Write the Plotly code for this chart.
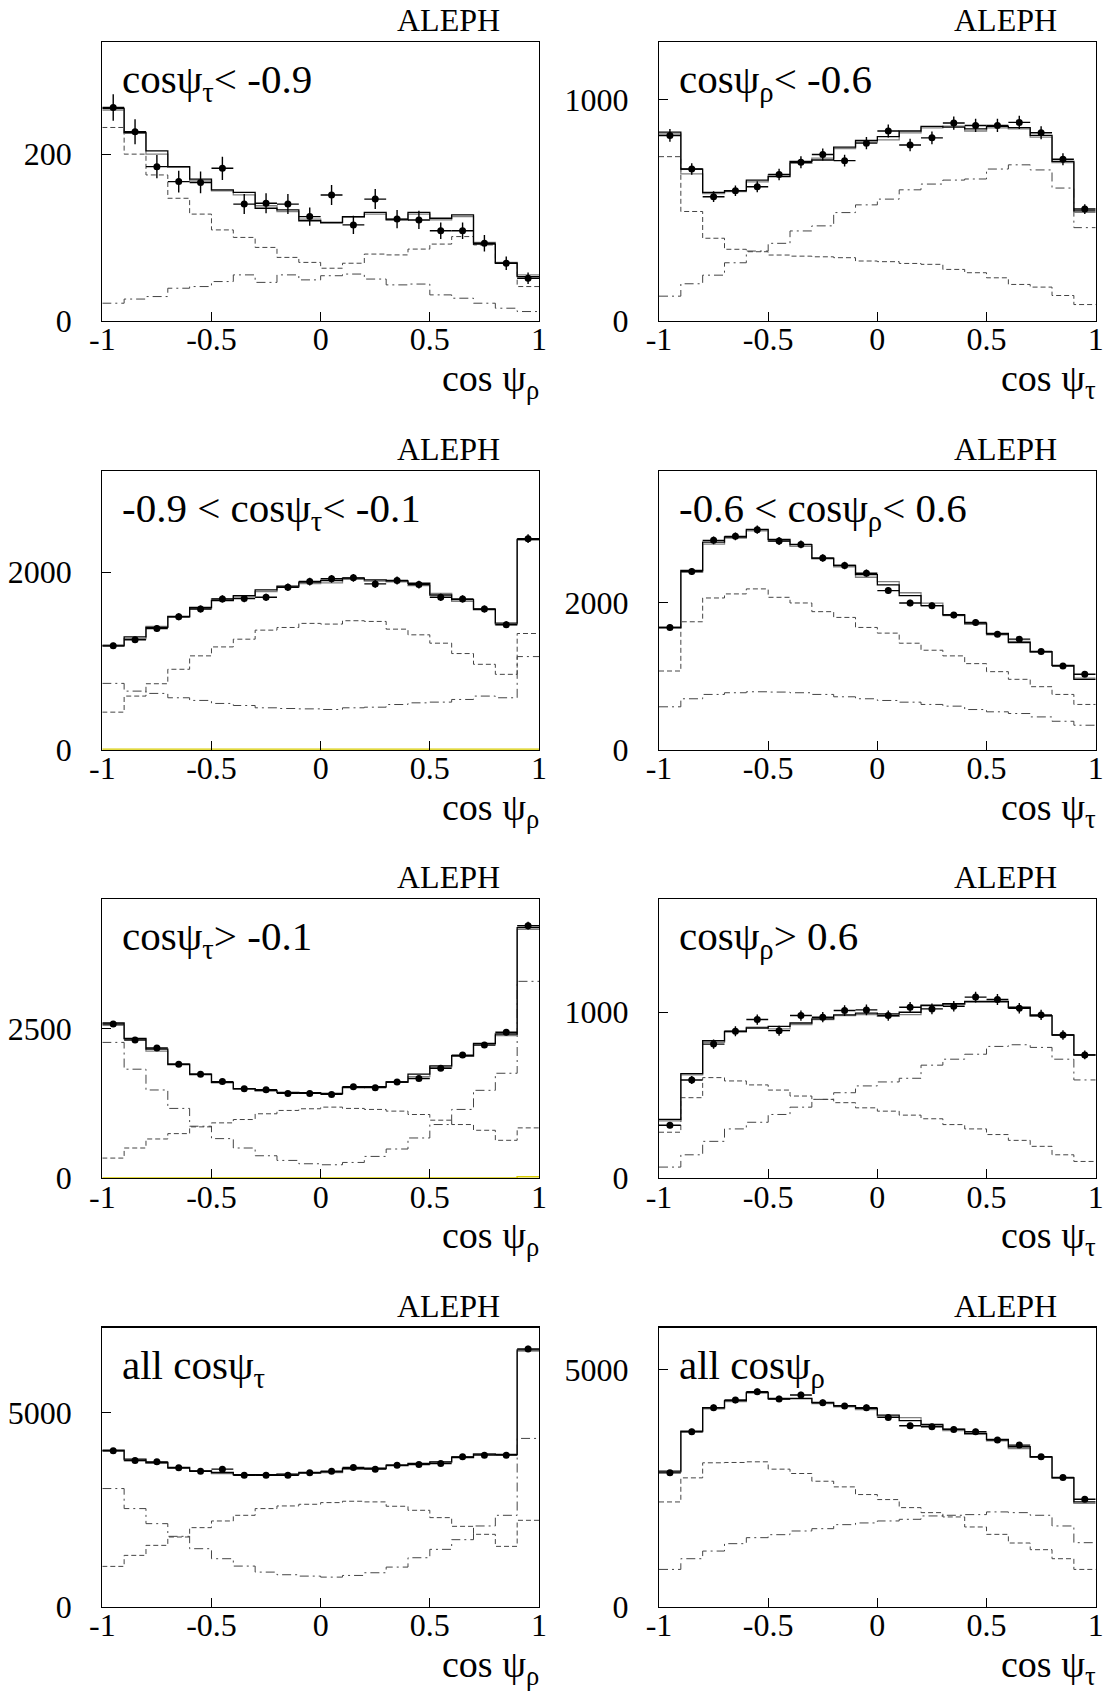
import plotly.graph_objects as go

# ---------------- bins ----------------
bin_lo = [-1.0, -0.9, -0.8, -0.7, -0.6, -0.5, -0.4, -0.3, -0.2, -0.1,
          0.0, 0.1, 0.2, 0.3, 0.4, 0.5, 0.6, 0.7, 0.8, 0.9]
x_hi = 1.0
bin_center = [-0.95, -0.85, -0.75, -0.65, -0.55, -0.45, -0.35, -0.25, -0.15, -0.05,
              0.05, 0.15, 0.25, 0.35, 0.45, 0.55, 0.65, 0.75, 0.85, 0.95]
x_tickvals = [-1, -0.5, 0, 0.5, 1]
x_ticktext = ["-1", "-0.5", "0", "0.5", "1"]

# ---------------- panel 1: cos psi_tau < -0.9 ----------------
p1_data = [256, 227, 185, 167, 166, 183, 140, 141, 140, 125, 151, 115, 146, 122, 121, 108, 108, 93, 69, 51]
p1_err = [16, 15, 14, 13, 13, 14, 12, 12, 12, 11, 12, 11, 12, 11, 11, 10, 10, 10, 8, 7]
p1_fit = [255, 226, 204, 185, 170, 157, 154, 135, 133, 120, 118, 125, 130, 121, 130, 123, 127, 92, 69, 53]
p1_fit2 = [253, 225, 200, 184, 168, 156, 151, 138, 131, 122, 117, 124, 128, 122, 128, 121, 125, 94, 70, 55]
p1_dash = [232, 200, 175, 147, 128, 109, 100, 88, 76, 70, 63, 69, 80, 79, 86, 92, 101, 91, 69, 41]
p1_dashdot = [21, 26, 29, 39, 41, 47, 55, 46, 55, 49, 54, 56, 50, 43, 44, 31, 27, 21, 15, 11]

# ---------------- panel 2: cos psi_rho < -0.6 ----------------
p2_data = [838, 686, 561, 588, 606, 661, 717, 752, 724, 803, 858, 795, 827, 894, 883, 883, 897, 850, 730, 505]
p2_err = [29, 26, 24, 24, 25, 26, 27, 27, 27, 28, 29, 28, 29, 30, 30, 30, 30, 29, 27, 22]
p2_fit = [853, 686, 580, 588, 636, 652, 721, 727, 785, 815, 833, 858, 879, 876, 868, 879, 873, 838, 721, 497]
p2_fit2 = [845, 664, 575, 584, 628, 660, 712, 735, 778, 808, 818, 850, 872, 880, 858, 872, 868, 830, 715, 490]
p2_dash = [742, 494, 373, 323, 312, 297, 292, 289, 285, 270, 267, 259, 255, 232, 217, 194, 164, 152, 114, 73]
p2_dashdot = [111, 167, 206, 262, 315, 350, 406, 429, 489, 524, 550, 592, 618, 636, 641, 686, 705, 682, 600, 421]

# ---------------- panel 3: -0.9 < cos psi_tau < -0.1 ----------------
p3_data = [1170, 1238, 1366, 1498, 1585, 1698, 1702, 1717, 1830, 1894, 1925, 1936, 1868, 1906, 1860, 1717, 1698, 1585, 1408, 2377]
p3_err = [34, 35, 37, 39, 40, 41, 41, 41, 43, 44, 44, 44, 43, 44, 43, 41, 41, 40, 38, 49]
p3_fit = [1170, 1272, 1377, 1502, 1604, 1679, 1736, 1800, 1842, 1887, 1906, 1932, 1913, 1902, 1875, 1743, 1690, 1577, 1426, 2370]
p3_fit2 = [1180, 1250, 1390, 1490, 1590, 1700, 1720, 1780, 1830, 1870, 1880, 1920, 1900, 1890, 1850, 1760, 1670, 1590, 1410, 2360]
p3_dash = [423, 604, 743, 906, 1057, 1158, 1245, 1347, 1377, 1423, 1415, 1453, 1445, 1358, 1294, 1200, 1083, 962, 849, 1309]
p3_dashdot = [747, 660, 634, 585, 555, 521, 498, 472, 464, 460, 453, 472, 479, 509, 528, 536, 566, 604, 585, 1049]
p3_bg = [4, 4, 4, 4, 4, 4, 4, 4, 4, 4, 4, 4, 4, 4, 4, 4, 4, 4, 4, 6]

# ---------------- panel 4: -0.6 < cos psi_rho < 0.6 ----------------
p4_data = [1659, 2418, 2841, 2895, 2986, 2832, 2786, 2600, 2500, 2395, 2159, 1991, 1955, 1827, 1727, 1568, 1500, 1332, 1136, 1023]
p4_err = [41, 49, 53, 54, 55, 53, 53, 51, 50, 49, 46, 45, 44, 43, 42, 40, 39, 36, 34, 32]
p4_fit = [1659, 2432, 2818, 2886, 2991, 2855, 2782, 2600, 2500, 2377, 2236, 2091, 1955, 1832, 1718, 1577, 1455, 1332, 1145, 955]
p4_fit2 = [1650, 2410, 2790, 2870, 2970, 2830, 2760, 2590, 2480, 2340, 2280, 2130, 1990, 1820, 1700, 1560, 1470, 1320, 1140, 970]
p4_dash = [1068, 1736, 2059, 2114, 2182, 2068, 1991, 1873, 1795, 1659, 1582, 1445, 1350, 1273, 1168, 1059, 955, 855, 750, 614]
p4_dashdot = [582, 691, 750, 773, 786, 782, 773, 750, 718, 691, 668, 645, 614, 591, 545, 514, 491, 445, 386, 332]

# ---------------- panel 5: cos psi_tau > -0.1 ----------------
p5_data = [2584, 2315, 2180, 1910, 1742, 1618, 1500, 1483, 1421, 1421, 1404, 1534, 1517, 1612, 1669, 1843, 2062, 2230, 2444, 4230]
p5_err = [51, 48, 47, 44, 42, 40, 39, 39, 38, 38, 37, 39, 39, 40, 41, 43, 45, 47, 49, 65]
p5_fit = [2601, 2343, 2163, 1910, 1742, 1601, 1500, 1472, 1433, 1433, 1421, 1517, 1534, 1612, 1742, 1882, 2051, 2258, 2416, 4197]
p5_fit2 = [2560, 2330, 2130, 1900, 1730, 1610, 1490, 1460, 1440, 1420, 1410, 1530, 1520, 1610, 1700, 1860, 2040, 2240, 2390, 4170]
p5_dash = [337, 506, 657, 747, 860, 927, 983, 1079, 1135, 1163, 1191, 1169, 1152, 1124, 1067, 972, 899, 803, 635, 843]
p5_dashdot = [2275, 1826, 1478, 1169, 871, 663, 506, 376, 298, 242, 225, 264, 365, 489, 674, 899, 1152, 1472, 1758, 3298]
p5_bg = [5, 5, 5, 5, 5, 5, 5, 5, 5, 5, 5, 5, 5, 5, 5, 5, 5, 5, 5, 25]

# ---------------- panel 6: cos psi_rho > 0.6 ----------------
p6_data = [319, 592, 808, 885, 956, 889, 980, 970, 1010, 1014, 980, 1030, 1020, 1036, 1091, 1077, 1024, 984, 863, 743]
p6_err = [18, 24, 28, 30, 31, 30, 31, 31, 32, 32, 31, 32, 32, 32, 33, 33, 32, 31, 29, 27]
p6_fit = [354, 630, 828, 885, 905, 915, 935, 960, 984, 994, 990, 1000, 1040, 1051, 1065, 1065, 1030, 980, 863, 741]
p6_fit2 = [345, 622, 818, 880, 910, 900, 925, 955, 980, 985, 975, 985, 1045, 1048, 1060, 1060, 1025, 975, 860, 745]
p6_dash = [277, 485, 606, 586, 562, 531, 495, 475, 455, 424, 404, 380, 358, 323, 297, 263, 228, 192, 141, 101]
p6_dashdot = [67, 141, 222, 297, 337, 384, 428, 475, 515, 556, 580, 602, 681, 717, 747, 794, 804, 788, 717, 592]

# ---------------- panel 7: all cos psi_tau ----------------
p7_data = [4010, 3761, 3726, 3571, 3485, 3537, 3382, 3382, 3382, 3442, 3485, 3580, 3537, 3640, 3657, 3683, 3855, 3898, 3898, 6635]
p7_err = [63, 61, 61, 60, 59, 59, 58, 58, 58, 59, 59, 60, 59, 60, 60, 61, 62, 62, 62, 81]
p7_fit = [4028, 3795, 3709, 3580, 3494, 3451, 3399, 3399, 3408, 3451, 3468, 3554, 3554, 3640, 3683, 3726, 3838, 3924, 3916, 6609]
p7_fit2 = [4000, 3760, 3690, 3560, 3480, 3420, 3390, 3380, 3400, 3430, 3450, 3540, 3570, 3620, 3670, 3720, 3860, 3930, 3900, 6580]
p7_dash = [1033, 1317, 1575, 1790, 2031, 2203, 2349, 2522, 2590, 2633, 2676, 2711, 2694, 2582, 2478, 2289, 2065, 1859, 1549, 2220]
p7_dashdot = [3038, 2522, 2134, 1807, 1489, 1231, 1041, 886, 818, 783, 757, 800, 869, 1015, 1256, 1472, 1721, 2074, 2349, 4329]

# ---------------- panel 8: all cos psi_rho ----------------
p8_data = [2825, 3694, 4202, 4364, 4541, 4386, 4470, 4308, 4237, 4202, 3997, 3821, 3799, 3743, 3694, 3517, 3411, 3164, 2726, 2267]
p8_err = [53, 61, 65, 66, 67, 66, 67, 66, 65, 65, 63, 62, 62, 61, 61, 59, 58, 56, 52, 48]
p8_fit = [2860, 3708, 4202, 4350, 4527, 4400, 4400, 4315, 4244, 4188, 4047, 3927, 3849, 3750, 3658, 3531, 3376, 3164, 2726, 2210]
p8_fit2 = [2840, 3690, 4180, 4330, 4510, 4380, 4390, 4290, 4220, 4160, 4010, 3990, 3820, 3720, 3640, 3500, 3340, 3150, 2710, 2180]
p8_dash = [2210, 2719, 3037, 3044, 3058, 2903, 2811, 2648, 2528, 2366, 2260, 2090, 1984, 1893, 1681, 1525, 1342, 1201, 1010, 784]
p8_dashdot = [784, 1010, 1172, 1328, 1455, 1518, 1596, 1645, 1730, 1766, 1808, 1843, 1914, 1928, 1942, 1999, 1984, 1928, 1702, 1349]

panel_labels = [
    "cosψ<sub>τ</sub>&lt; -0.9",
    "cosψ<sub>ρ</sub>&lt; -0.6",
    "-0.9 &lt; cosψ<sub>τ</sub>&lt; -0.1",
    "-0.6 &lt; cosψ<sub>ρ</sub>&lt; 0.6",
    "cosψ<sub>τ</sub>&gt; -0.1",
    "cosψ<sub>ρ</sub>&gt; 0.6",
    "all cosψ<sub>τ</sub>",
    "all cosψ<sub>ρ</sub>",
]
x_titles = ["cos ψ<sub>ρ</sub>", "cos ψ<sub>τ</sub>"] * 4
y_max = [335, 1262, 3143, 3786, 4674, 1681, 7186, 5897]
y_tick = [200, 1000, 2000, 2000, 2500, 1000, 5000, 5000]

panels = [
    dict(data=p1_data, err=p1_err, fit=p1_fit, fit2=p1_fit2, dash=p1_dash, dashdot=p1_dashdot, bg=None),
    dict(data=p2_data, err=p2_err, fit=p2_fit, fit2=p2_fit2, dash=p2_dash, dashdot=p2_dashdot, bg=None),
    dict(data=p3_data, err=p3_err, fit=p3_fit, fit2=p3_fit2, dash=p3_dash, dashdot=p3_dashdot, bg=p3_bg),
    dict(data=p4_data, err=p4_err, fit=p4_fit, fit2=p4_fit2, dash=p4_dash, dashdot=p4_dashdot, bg=None),
    dict(data=p5_data, err=p5_err, fit=p5_fit, fit2=p5_fit2, dash=p5_dash, dashdot=p5_dashdot, bg=p5_bg),
    dict(data=p6_data, err=p6_err, fit=p6_fit, fit2=p6_fit2, dash=p6_dash, dashdot=p6_dashdot, bg=None),
    dict(data=p7_data, err=p7_err, fit=p7_fit, fit2=p7_fit2, dash=p7_dash, dashdot=p7_dashdot, bg=None),
    dict(data=p8_data, err=p8_err, fit=p8_fit, fit2=p8_fit2, dash=p8_dash, dashdot=p8_dashdot, bg=None),
]

# ---------------- layout geometry (screen pixels) ----------------
W, H = 1103, 1692
col_px = [(102.3, 539.0), (659.0, 1095.7)]
row_px = [(41.7, 320.7), (470.7, 749.7), (899.2, 1178.2), (1327.5, 1606.5)]
FONT = "Liberation Serif, Times New Roman, serif"


def fx(px):
    return px / W


def fy(py):
    return 1 - py / H


fig = go.Figure()
layout = dict(
    width=W, height=H, margin=dict(l=0, r=0, t=0, b=0, pad=0, autoexpand=False),
    paper_bgcolor="white", plot_bgcolor="white", showlegend=False,
    font=dict(family=FONT, color="black"),
)
annotations = []


def step_xy(vals):
    return bin_lo + [x_hi], list(vals) + [vals[-1]]


for i, p in enumerate(panels):
    r, c = divmod(i, 2)
    n = i + 1
    xa = "x" if n == 1 else f"x{n}"
    ya = "y" if n == 1 else f"y{n}"
    x0, x1 = col_px[c]
    top, bot = row_px[r]

    sx, sy = step_xy(p["dashdot"])
    fig.add_trace(go.Scatter(x=sx, y=sy, mode="lines", line=dict(shape="hv", color="#444", width=1,
                  dash="9px,4px,2px,4px"), xaxis=xa, yaxis=ya, hoverinfo="skip"))
    sx, sy = step_xy(p["dash"])
    fig.add_trace(go.Scatter(x=sx, y=sy, mode="lines", line=dict(shape="hv", color="#444", width=1,
                  dash="5px,3px"), xaxis=xa, yaxis=ya, hoverinfo="skip"))
    if p["bg"] is not None:
        sx, sy = step_xy(p["bg"])
        fig.add_trace(go.Scatter(x=sx, y=sy, mode="lines", line=dict(shape="hv", color="#d8cc00", width=1.5),
                      xaxis=xa, yaxis=ya, hoverinfo="skip"))
    sx, sy = step_xy(p["fit2"])
    fig.add_trace(go.Scatter(x=sx, y=sy, mode="lines", line=dict(shape="hv", color="#808080", width=1.3),
                  xaxis=xa, yaxis=ya, hoverinfo="skip"))
    sx, sy = step_xy(p["fit"])
    fig.add_trace(go.Scatter(x=sx, y=sy, mode="lines", line=dict(shape="hv", color="black", width=1.3),
                  xaxis=xa, yaxis=ya, hoverinfo="skip"))
    fig.add_trace(go.Scatter(
        x=bin_center, y=p["data"], mode="markers",
        marker=dict(color="black", size=7),
        error_y=dict(type="data", array=p["err"], color="black", thickness=1.4, width=0),
        error_x=dict(type="constant", value=0.05, color="black", thickness=1.4, width=0),
        xaxis=xa, yaxis=ya))

    layout["xaxis" if n == 1 else f"xaxis{n}"] = dict(
        domain=[fx(x0), fx(x1)], anchor=ya, range=[-1, 1], automargin=False,
        tickvals=x_tickvals, ticktext=x_ticktext, ticks="inside", ticklen=9, tickcolor="black",
        showline=True, linecolor="black", linewidth=1.2, mirror=True, showgrid=False, zeroline=False,
        tickfont=dict(family=FONT, size=32, color="black"), ticklabelstandoff=-10,
        ticklabeloverflow="allow",
    )
    layout["yaxis" if n == 1 else f"yaxis{n}"] = dict(
        domain=[fy(bot), fy(top)], anchor=xa, range=[0, y_max[i]], automargin=False,
        tickvals=[0, y_tick[i]], ticktext=["0", str(y_tick[i])], ticks="inside", ticklen=9,
        tickcolor="black", showline=True, linecolor="black", linewidth=1.2, mirror=True,
        showgrid=False, zeroline=False, ticklabeloverflow="allow",
        tickfont=dict(family=FONT, size=32, color="black"), ticklabelstandoff=23,
    )

    annotations.append(dict(text="ALEPH", xref="paper", yref="paper", x=fx(x1 - 37), y=fy(top - 22),
                            xanchor="right", yanchor="middle", showarrow=False,
                            font=dict(family=FONT, size=32, color="black")))
    annotations.append(dict(text=panel_labels[i], xref="paper", yref="paper", x=fx(x0 + 18),
                            y=fy(top + 12), xanchor="left", yanchor="top", showarrow=False,
                            font=dict(family=FONT, size=41, color="black")))
    annotations.append(dict(text=x_titles[i], xref="paper", yref="paper", x=fx(x1 + 2),
                            y=fy(bot + 60), xanchor="right", yanchor="middle", showarrow=False,
                            font=dict(family=FONT, size=38, color="black")))

layout["annotations"] = annotations
fig.update_layout(**layout)
fig.write_html(
    "out.html",
    config={"displayModeBar": False, "staticPlot": True},
    post_script="document.body.style.margin='0px';document.body.style.overflow='hidden';",
)
